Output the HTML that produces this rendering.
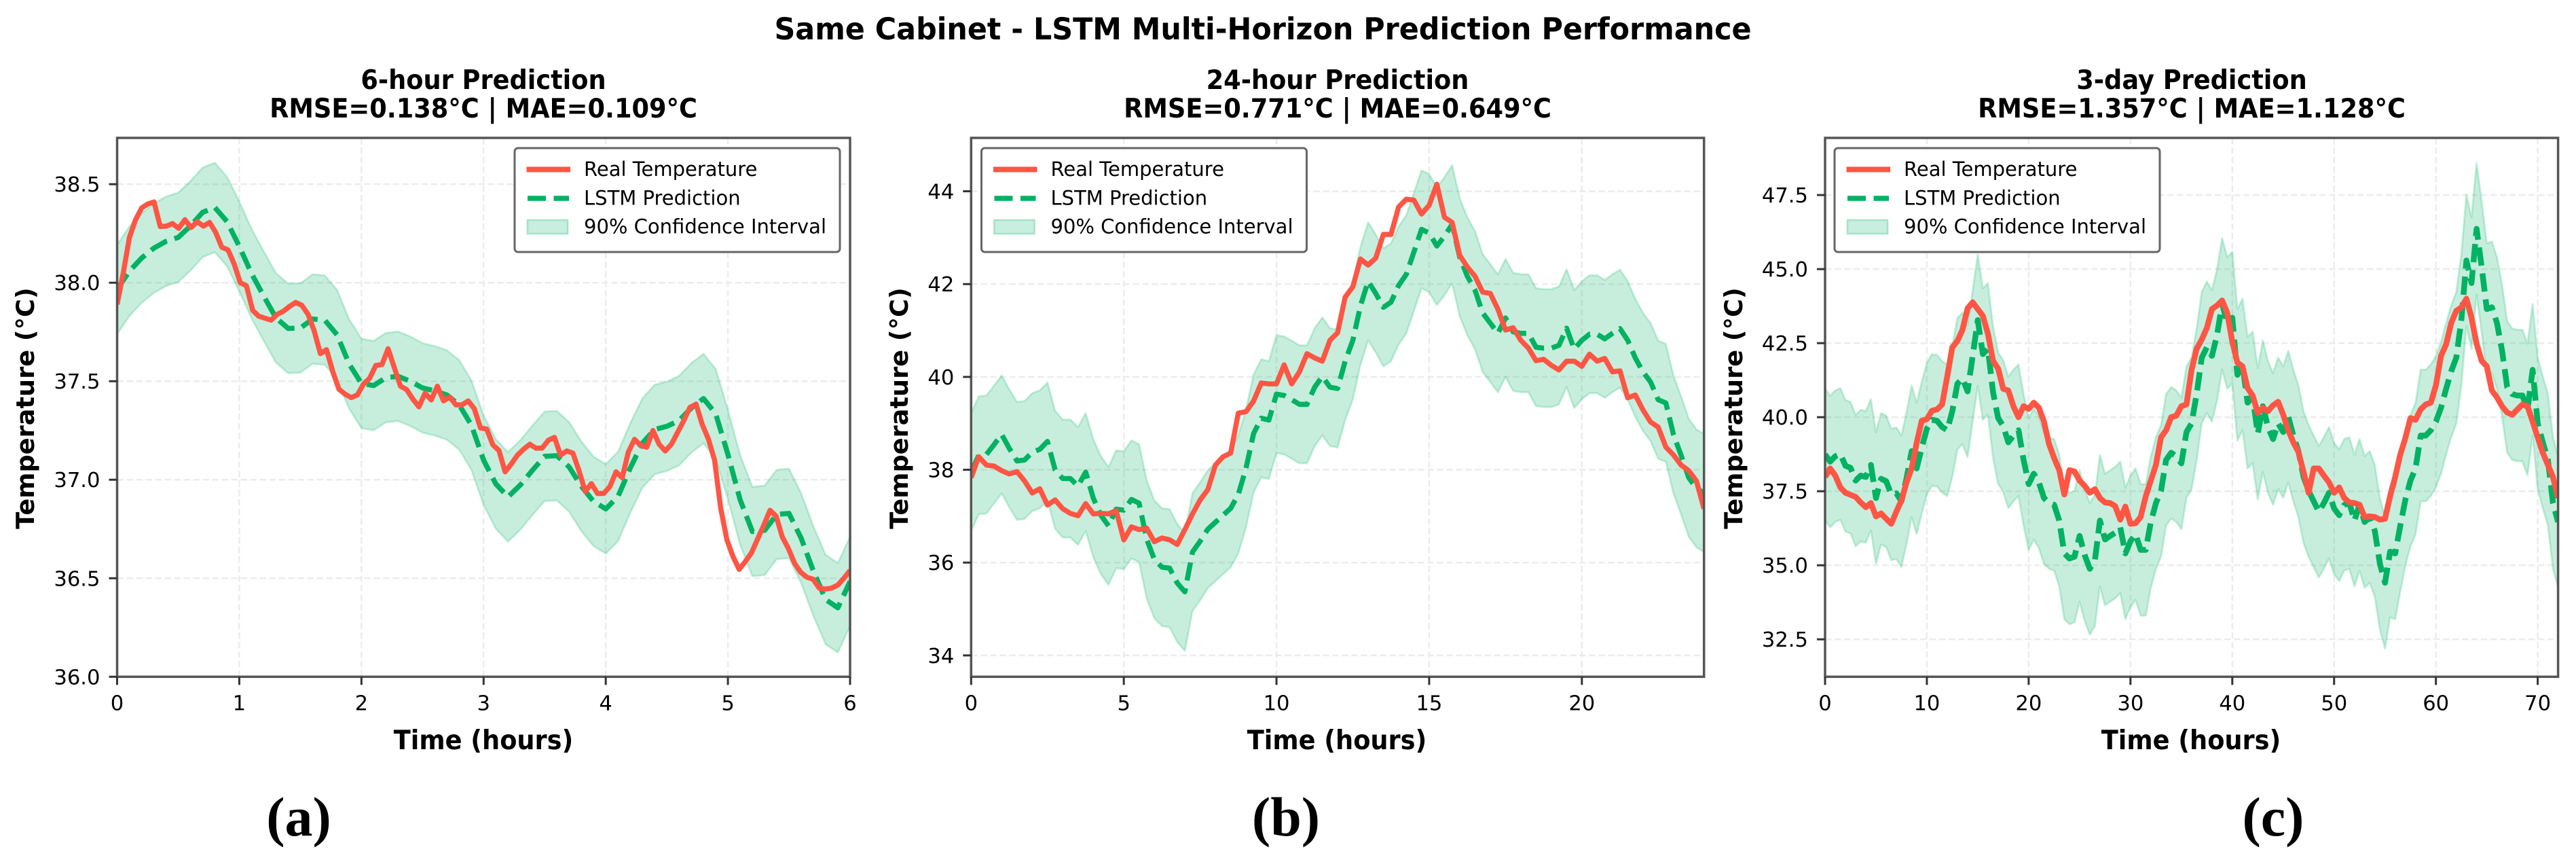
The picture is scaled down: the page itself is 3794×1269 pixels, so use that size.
<!DOCTYPE html>
<html lang="en">
<head>
<meta charset="utf-8">
<title>Same Cabinet - LSTM Multi-Horizon Prediction Performance</title>
<style>
html,body{margin:0;padding:0;background:#fff;}
svg{display:block;}
text{font-family:"DejaVu Sans","Liberation Sans",sans-serif;fill:#000;}
.b{font-weight:700;}
.st{font-size:39.5px;font-weight:700;text-anchor:middle;}
.yt{font-size:36.7px;font-weight:700;text-anchor:middle;}
.lg{font-size:29px;}
.pl{font-family:"Liberation Serif",serif;font-weight:700;font-size:82px;text-anchor:middle;}
</style>
</head>
<body>
<svg id="figure" xmlns="http://www.w3.org/2000/svg" width="3794" height="1269" viewBox="0 0 3794 1269">
<defs>
<clipPath id="clip-a"><rect x="172.5" y="203" width="1079.5" height="793.3"/></clipPath>
<clipPath id="clip-b"><rect x="1430.3" y="203" width="1079.4" height="793.3"/></clipPath>
<clipPath id="clip-c"><rect x="2688" y="203" width="1079.6" height="793.3"/></clipPath>
</defs>
<rect width="3794" height="1269" fill="#fff"/>
<text transform="translate(1860 58) scale(.958 1)" font-size="44.7" class="b" text-anchor="middle">Same Cabinet - LSTM Multi-Horizon Prediction Performance</text>

<g>
<text class="st" transform="translate(712 131) scale(.93 1)">6-hour Prediction</text>
<text class="st" transform="translate(712 173) scale(.93 1)">RMSE=0.138°C | MAE=0.109°C</text>
<g id="grid-a"></g>
<g id="plot-a" clip-path="url(#clip-a)"></g>
<rect x="172.5" y="203" width="1079.5" height="793.3" fill="none" stroke="#555" stroke-width="3.5"/>
<g id="ticks-a"></g>
<text class="st" transform="translate(712 1103) scale(.93 1)">Time (hours)</text>
<text class="yt" transform="translate(50 601) rotate(-90)">Temperature (°C)</text>
<g transform="translate(758 218)">
<rect x="0" y="0" width="479" height="153" rx="5" fill="#fff" fill-opacity="0.95" stroke="#666" stroke-width="3"/>
<line x1="17.5" x2="82" y1="31.5" y2="31.5" stroke="#ff5544" stroke-width="8"/>
<line x1="19" x2="80" y1="74" y2="74" stroke="#00b262" stroke-width="7.5" stroke-dasharray="27 11.5"/>
<rect x="19" y="106" width="59" height="20" fill="#c7eedf" stroke="#a5e1c8" stroke-width="2.5"/>
<text class="lg" x="102" y="41">Real Temperature</text>
<text class="lg" x="102" y="83.5">LSTM Prediction</text>
<text class="lg" x="102" y="125.5">90% Confidence Interval</text>
</g>
<text class="pl" x="440" y="1230">(a)</text>
</g>

<g>
<text class="st" transform="translate(1970 131) scale(.93 1)">24-hour Prediction</text>
<text class="st" transform="translate(1970 173) scale(.93 1)">RMSE=0.771°C | MAE=0.649°C</text>
<g id="grid-b"></g>
<g id="plot-b" clip-path="url(#clip-b)"></g>
<rect x="1430.3" y="203" width="1079.4" height="793.3" fill="none" stroke="#555" stroke-width="3.5"/>
<g id="ticks-b"></g>
<text class="st" transform="translate(1969 1103) scale(.93 1)">Time (hours)</text>
<text class="yt" transform="translate(1337 601) rotate(-90)">Temperature (°C)</text>
<g transform="translate(1445.5 218)">
<rect x="0" y="0" width="479" height="153" rx="5" fill="#fff" fill-opacity="0.95" stroke="#666" stroke-width="3"/>
<line x1="17.5" x2="82" y1="31.5" y2="31.5" stroke="#ff5544" stroke-width="8"/>
<line x1="19" x2="80" y1="74" y2="74" stroke="#00b262" stroke-width="7.5" stroke-dasharray="27 11.5"/>
<rect x="19" y="106" width="59" height="20" fill="#c7eedf" stroke="#a5e1c8" stroke-width="2.5"/>
<text class="lg" x="102" y="41">Real Temperature</text>
<text class="lg" x="102" y="83.5">LSTM Prediction</text>
<text class="lg" x="102" y="125.5">90% Confidence Interval</text>
</g>
<text class="pl" x="1894" y="1230">(b)</text>
</g>

<g>
<text class="st" transform="translate(3228 131) scale(.93 1)">3-day Prediction</text>
<text class="st" transform="translate(3228 173) scale(.93 1)">RMSE=1.357°C | MAE=1.128°C</text>
<g id="grid-c"></g>
<g id="plot-c" clip-path="url(#clip-c)"></g>
<rect x="2688" y="203" width="1079.6" height="793.3" fill="none" stroke="#555" stroke-width="3.5"/>
<g id="ticks-c"></g>
<text class="st" transform="translate(3227 1103) scale(.93 1)">Time (hours)</text>
<text class="yt" transform="translate(2566 601) rotate(-90)">Temperature (°C)</text>
<g transform="translate(2702 218)">
<rect x="0" y="0" width="479" height="153" rx="5" fill="#fff" fill-opacity="0.95" stroke="#666" stroke-width="3"/>
<line x1="17.5" x2="82" y1="31.5" y2="31.5" stroke="#ff5544" stroke-width="8"/>
<line x1="19" x2="80" y1="74" y2="74" stroke="#00b262" stroke-width="7.5" stroke-dasharray="27 11.5"/>
<rect x="19" y="106" width="59" height="20" fill="#c7eedf" stroke="#a5e1c8" stroke-width="2.5"/>
<text class="lg" x="102" y="41">Real Temperature</text>
<text class="lg" x="102" y="83.5">LSTM Prediction</text>
<text class="lg" x="102" y="125.5">90% Confidence Interval</text>
</g>
<text class="pl" x="3348" y="1230">(c)</text>
</g>
</svg>

<script>
// ---- Panel (a): 6-hour horizon ----
const xTickLabelsA = ['0','1','2','3','4','5','6'];
const yTickLabelsA = ['36.0','36.5','37.0','37.5','38.0','38.5'];
const xLimitsA = [0, 6];
const yLimitsA = [36.0, 38.735];
const realStepA = 6 / 119;
const predStepA = 0.1;
const ciHalfWidthA = 0.227;
const realA = [37.89,38.05,38.23,38.32,38.38,38.40,38.41,38.285,38.287,38.30,38.276,38.32,38.28,38.31,38.287,38.306,38.256,38.18,38.167,38.095,38.00,37.984,37.86,37.83,37.82,37.81,37.84,37.855,37.88,37.90,37.885,37.84,37.755,37.64,37.66,37.55,37.46,37.435,37.417,37.43,37.486,37.515,37.58,37.585,37.665,37.57,37.475,37.458,37.41,37.37,37.44,37.405,37.475,37.40,37.42,37.38,37.38,37.40,37.36,37.263,37.257,37.177,37.148,37.04,37.08,37.125,37.155,37.18,37.16,37.16,37.20,37.215,37.125,37.146,37.135,37.045,36.94,36.98,36.93,36.93,36.965,37.04,37.01,37.14,37.205,37.175,37.165,37.25,37.18,37.146,37.18,37.24,37.30,37.367,37.384,37.28,37.206,37.10,36.855,36.695,36.61,36.545,36.585,36.63,36.70,36.77,36.845,36.815,36.71,36.65,36.575,36.53,36.505,36.495,36.45,36.445,36.45,36.465,36.50,36.54];
const predA = [37.966,38.058,38.125,38.175,38.21,38.23,38.288,38.357,38.382,38.31,38.185,38.047,37.932,37.822,37.768,37.77,37.816,37.81,37.736,37.587,37.489,37.478,37.518,37.525,37.5,37.466,37.451,37.43,37.38,37.277,37.099,36.979,36.913,36.973,37.048,37.119,37.122,37.065,36.967,36.89,36.852,36.915,37.059,37.186,37.255,37.271,37.30,37.364,37.412,37.335,37.128,36.898,36.737,36.743,36.824,36.829,36.703,36.536,36.392,36.35,36.484];

// ---- Panel (b): 24-hour horizon ----
const xTickLabelsB = ['0','5','10','15','20'];
const yTickLabelsB = ['34','36','38','40','42','44'];
const xLimitsB = [0, 24];
const yLimitsB = [33.54, 45.15];
const realStepB = 0.25;
const predStepB = 0.25;
const ciHalfWidthB = 1.27;
const realB = [37.83,38.28,38.10,38.08,37.98,37.91,37.96,37.76,37.50,37.59,37.24,37.35,37.16,37.06,37.01,37.27,37.05,37.06,37.05,37.12,36.49,36.77,36.71,36.74,36.45,36.53,36.49,36.39,36.71,37.05,37.35,37.57,38.10,38.28,38.36,39.22,39.25,39.48,39.87,39.85,39.85,40.26,39.85,40.11,40.50,40.41,40.34,40.79,40.95,41.72,41.94,42.54,42.41,42.56,43.07,43.07,43.66,43.83,43.81,43.51,43.70,44.15,43.44,43.33,42.62,42.37,42.17,41.83,41.80,41.46,41.01,41.06,40.79,40.62,40.35,40.38,40.25,40.15,40.34,40.34,40.23,40.49,40.34,40.40,40.11,40.13,39.55,39.61,39.29,39.03,38.92,38.49,38.32,38.10,37.98,37.76,37.16];
const predB = [37.95,38.31,38.33,38.54,38.76,38.46,38.19,38.21,38.38,38.44,38.61,38.0,37.81,37.81,37.65,37.95,37.39,37.02,36.79,37.15,37.13,37.36,37.28,36.50,36.07,35.90,35.88,35.56,35.37,36.23,36.46,36.72,36.87,37.02,37.17,37.47,38.03,38.78,39.11,39.07,39.63,39.60,39.51,39.41,39.41,39.78,40.01,39.78,39.75,40.34,40.79,41.53,42.06,41.80,41.50,41.61,41.97,42.21,42.69,43.18,43.10,42.82,43.03,43.29,42.58,42.17,41.87,41.38,41.16,40.94,41.27,40.97,40.94,40.94,40.64,40.62,40.62,40.68,41.05,40.60,40.79,40.92,40.92,40.82,40.94,41.04,40.79,40.41,40.11,39.89,39.51,39.44,38.76,38.31,37.83,37.60,37.5];

// ---- Panel (c): 3-day horizon ----
const xTickLabelsC = ['0','10','20','30','40','50','60','70'];
const yTickLabelsC = ['32.5','35.0','37.5','40.0','42.5','45.0','47.5'];
const xLimitsC = [0, 72];
const yLimitsC = [31.236, 49.43];
const realStepC = 0.5;
const predStepC = 0.5;
const ciHalfWidthC = 2.22;
const realC = [37.98,38.27,38.03,37.63,37.45,37.38,37.31,37.12,36.96,37.10,36.65,36.75,36.57,36.40,36.81,37.19,37.80,38.27,39.13,39.88,39.93,40.22,40.26,40.43,41.37,42.36,42.57,42.95,43.67,43.88,43.65,43.42,42.81,41.90,41.64,40.96,40.90,40.37,40.0,40.37,40.28,40.49,40.32,39.85,39.09,38.62,38.21,37.39,38.21,38.17,37.86,37.68,37.45,37.57,37.27,37.12,37.10,37.0,36.54,36.98,36.40,36.42,36.63,37.33,37.86,38.39,39.32,39.56,40.0,40.05,40.37,40.43,41.60,42.31,42.62,43.01,43.65,43.77,43.94,43.53,42.54,41.84,41.72,40.98,40.73,40.14,40.32,40.20,40.40,40.52,40.08,39.56,39.15,38.83,38.15,37.45,38.27,38.27,38.03,37.80,37.45,37.63,37.27,37.12,37.10,37.04,36.63,36.65,36.63,36.54,36.57,37.33,37.98,38.74,39.30,39.97,39.91,40.26,40.43,40.49,41.08,42.07,42.46,43.18,43.59,43.71,44.0,43.36,42.48,41.90,41.72,40.90,40.67,40.37,40.16,40.08,40.26,40.43,40.37,39.85,39.32,38.80,38.39,37.98,37.27];
const predC = [38.74,38.50,38.68,38.76,38.36,38.29,37.86,38.03,37.98,38.39,37.27,37.92,37.84,37.39,37.43,37.16,37.94,38.85,38.27,38.97,39.61,39.91,39.88,39.67,39.56,40.20,41.13,41.31,40.87,42.07,43.28,42.13,42.31,40.84,39.97,39.70,39.15,39.38,39.56,38.56,37.74,38.09,37.80,37.27,37.10,37.04,36.51,35.40,35.23,35.29,35.99,35.34,34.88,35.17,36.51,35.87,35.99,36.10,36.28,35.40,35.81,36.05,35.52,35.52,36.46,37.10,37.51,38.56,38.80,38.68,38.44,39.50,39.79,40.78,42.01,42.36,42.07,42.77,43.83,43.18,43.36,41.43,41.78,40.49,40.67,39.44,40.37,39.67,39.26,39.79,39.50,40.02,39.38,38.85,37.98,37.51,37.16,36.81,37.10,37.45,36.92,36.69,37.04,37.10,36.51,37.04,36.46,36.63,36.16,35.05,34.41,35.46,35.40,36.34,37.22,37.86,38.27,39.38,39.38,39.56,39.85,40.32,40.96,41.55,42.01,43.30,45.29,44.53,46.36,45.06,43.65,43.71,43.18,42.25,41.02,40.78,40.73,40.73,40.26,41.60,39.79,39.15,38.57,37.10,36.46];

const NS = 'http://www.w3.org/2000/svg';

function make(tag, attrs, parent) {
  const el = document.createElementNS(NS, tag);
  for (const k in attrs) el.setAttribute(k, attrs[k]);
  parent.appendChild(el);
  return el;
}

function drawPanel(id, box, xLimits, yLimits, xLabels, yLabels, real, realStep, pred, predStep, halfWidth, lineWidth) {
  const x = function (t) { return box.left + (t - xLimits[0]) * (box.right - box.left) / (xLimits[1] - xLimits[0]); };
  const y = function (v) { return box.bottom - (v - yLimits[0]) * (box.bottom - box.top) / (yLimits[1] - yLimits[0]); };
  const grid = document.getElementById('grid-' + id);
  const plot = document.getElementById('plot-' + id);
  const ticks = document.getElementById('ticks-' + id);

  xLabels.forEach(function (label) {
    const px = x(Number(label));
    const g = make('line', {x1: px, x2: px, y1: box.top, y2: box.bottom, stroke: '#ececec', 'stroke-width': 2.5, 'stroke-dasharray': '9.5 4.5'}, grid);
    
    
    const m = make('line', {x1: px, x2: px, y1: box.bottom, y2: box.bottom + 12, stroke: '#333', 'stroke-width': 3}, ticks);
    
    
    const t = make('text', {x: px, y: 1045.6, 'font-size': 30.6, 'text-anchor': 'middle'}, ticks);
    
    
    t.textContent = label;
  });

  yLabels.forEach(function (label) {
    const py = y(Number(label));
    const g = make('line', {x1: box.left, x2: box.right, y1: py, y2: py, stroke: '#ececec', 'stroke-width': 2.5, 'stroke-dasharray': '9.5 4.5'}, grid);
    
    
    const m = make('line', {x1: box.left - 12, x2: box.left, y1: py, y2: py, stroke: '#333', 'stroke-width': 3}, ticks);
    
    
    const t = make('text', {x: box.left - 25, y: py + 11, 'font-size': 30.6, 'text-anchor': 'end'}, ticks);
    
    
    t.textContent = label;
  });

  const predPts = pred.map(function (v, i) { return x(i * predStep).toFixed(1) + ',' + y(v).toFixed(1); });
  const upper = pred.map(function (v, i) { return x(i * predStep).toFixed(1) + ',' + y(v + halfWidth).toFixed(1); });
  const lower = pred.map(function (v, i) { return x(i * predStep).toFixed(1) + ',' + y(v - halfWidth).toFixed(1); }).reverse();
  const realPts = real.map(function (v, i) { return x(i * realStep).toFixed(1) + ',' + y(v).toFixed(1); });

  const band = make('polygon', {points: upper.concat(lower).join(' '), fill: 'rgba(0,178,98,0.22)', stroke: 'rgba(0,178,98,0.2)', 'stroke-width': 3, 'stroke-linejoin': 'round'}, plot);
  
  

  const predLine = make('polyline', {points: predPts.join(' '), fill: 'none', stroke: '#00b262', 'stroke-width': lineWidth, 'stroke-dasharray': '27 11.5', 'stroke-linejoin': 'round'}, plot);
  
  

  const realLine = make('polyline', {points: realPts.join(' '), fill: 'none', stroke: '#ff5544', 'stroke-width': lineWidth, 'stroke-linejoin': 'round'}, plot);
  
  
}

drawPanel('a', {left: 172.5, right: 1252, top: 203, bottom: 996.3}, xLimitsA, yLimitsA, xTickLabelsA, yTickLabelsA, realA, realStepA, predA, predStepA, ciHalfWidthA, 7.5);
drawPanel('b', {left: 1430.3, right: 2509.7, top: 203, bottom: 996.3}, xLimitsB, yLimitsB, xTickLabelsB, yTickLabelsB, realB, realStepB, predB, predStepB, ciHalfWidthB, 7.5);
drawPanel('c', {left: 2688, right: 3767.6, top: 203, bottom: 996.3}, xLimitsC, yLimitsC, xTickLabelsC, yTickLabelsC, realC, realStepC, predC, predStepC, ciHalfWidthC, 8.5);
</script>
</body>
</html>
